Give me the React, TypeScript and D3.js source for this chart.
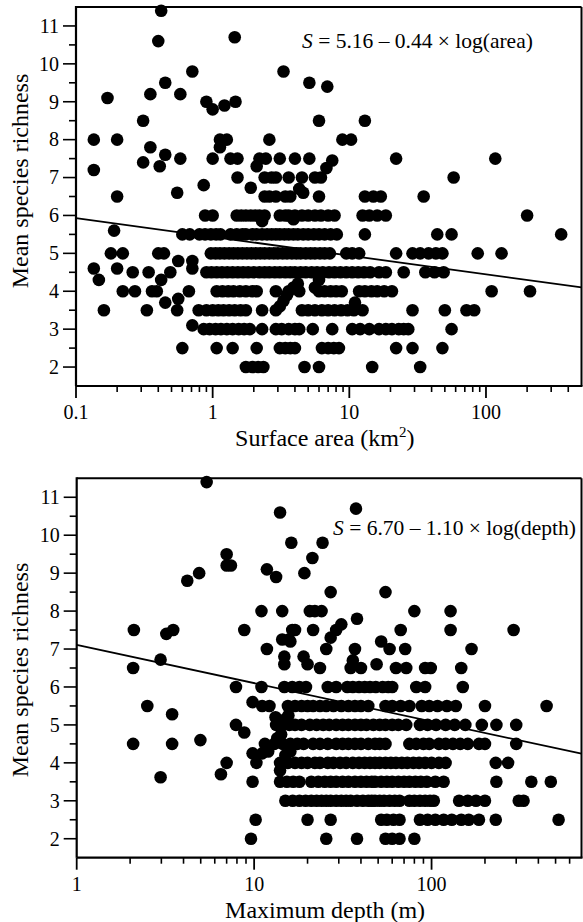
import React from "react";
import * as d3 from "d3";

// ---------- Panel 1: surface area ----------
const areaLevels = [2, 2.5, 3, 3.5, 4, 4.5, 5, 5.5, 6, 6.5, 7, 7.5, 8, 8.5];
const areaRows = [
  [1.75, 1.95, 2.15, 2.35, 4.7, 6.0, 14.7, 33],
  [0.6, 1.07, 1.4, 2.1, 3.1, 3.4, 3.7, 4.0, 6.3, 7.0, 7.7, 8.4, 22, 29, 48],
  [0.86, 0.95, 1.05, 1.15, 1.27, 1.4, 1.55, 1.7, 1.87, 2.3, 2.9, 3.2, 3.6, 4.0, 4.3, 5.4, 7.5, 10.5, 12, 14, 16.5, 18.5, 20.5, 23, 25, 27, 56],
  [0.16, 0.33, 0.55, 0.79, 0.9, 1.0, 1.1, 1.2, 1.32, 1.45, 1.6, 1.75, 2.3, 2.9, 4.5, 5.0, 5.6, 6.3, 7.0, 7.8, 8.7, 9.7, 10.8, 12.5, 29, 50, 72, 82],
  [0.22, 0.27, 0.36, 0.39, 0.67, 1.07, 1.18, 1.3, 1.42, 1.58, 1.75, 1.95, 2.1, 2.9, 3.6, 4.3, 6.0, 6.6, 7.3, 8.0, 8.8, 11.8, 13, 14.5, 16, 18, 20.5, 110, 210],
  [0.26, 0.34, 0.49, 0.9, 0.98, 1.07, 1.17, 1.28, 1.4, 1.53, 1.67, 1.82, 2.0, 2.2, 2.4, 2.6, 2.85, 3.1, 3.4, 3.7, 4.0, 4.4, 4.8, 5.3, 5.8, 6.4, 7.1, 7.8, 8.6, 9.5, 10.5, 11.6, 12.8, 14.2, 16.5, 18.5, 25, 36, 42, 49],
  [0.18, 0.22, 0.4, 0.44, 0.97, 1.05, 1.13, 1.22, 1.32, 1.42, 1.53, 1.65, 1.78, 1.92, 2.07, 2.23, 2.4, 2.6, 2.8, 3.0, 3.25, 3.5, 3.8, 4.1, 4.4, 4.8, 5.2, 5.6, 6.1, 6.6, 7.2, 9.5, 10.5, 11.8, 22, 29, 33, 38, 43, 48, 87, 130],
  [0.6, 0.68, 0.8, 0.88, 0.97, 1.06, 1.14, 1.35, 1.5, 1.65, 1.75, 1.95, 2.1, 2.3, 2.5, 2.7, 2.9, 3.1, 3.35, 3.6, 3.9, 4.2, 4.6, 5.0, 5.5, 6.0, 6.6, 7.3, 8.1, 13, 44, 56, 355],
  [0.88, 1.0, 1.5, 1.62, 1.75, 1.9, 2.05, 2.2, 2.4, 3.1, 3.4, 3.6, 4.0, 4.5, 5.0, 5.6, 6.2, 7.0, 7.8, 12.5, 14, 16, 18.5, 200],
  [2.4, 2.6, 2.9, 3.4, 3.7, 6.0, 13, 15, 17, 35],
  [1.52, 2.4, 2.7, 2.9, 3.6, 4.5, 5.6, 6.2, 58],
  [1.0, 1.35, 1.52, 2.2, 2.45, 3.1, 4.0, 5.1, 22, 117],
  [0.135, 0.2, 1.13, 1.27, 2.6, 8.9, 10.3],
  [0.31, 6.0, 13],
];
const areaExtras = [
  [0.42, 11.4], [0.4, 10.6], [1.45, 10.7], [3.3, 9.8], [0.71, 9.8], [0.45, 9.5], [5.1, 9.5], [6.9, 9.4],
  [0.17, 9.1], [0.35, 9.2], [0.58, 9.2], [0.9, 9.0], [1.0, 8.8], [1.22, 8.9], [1.47, 9.0],
  [0.35, 7.8], [1.13, 7.8], [0.45, 7.6], [0.31, 7.4], [0.41, 7.3], [0.58, 7.5], [2.1, 7.3], [6.8, 7.25],
  [7.5, 7.45], [0.135, 7.2], [0.2, 6.5], [0.55, 6.6], [0.86, 6.8], [1.9, 6.73], [4.3, 6.7], [4.6, 6.6],
  [3.9, 5.9], [2.3, 5.85], [0.19, 5.6], [0.56, 4.8], [0.71, 4.8], [0.71, 4.6], [0.2, 4.6], [0.135, 4.6],
  [0.147, 4.3], [0.42, 4.3], [0.45, 3.7], [0.56, 3.8], [0.71, 3.1], [3.1, 3.6], [3.3, 3.75], [3.5, 3.9],
  [3.9, 4.1], [4.2, 4.2], [11, 3.7], [5.6, 4.1], [6.0, 4.3],
];
const areaFit = [[0.1, 5.93], [500, 4.1]];
const areaMajorTicks = [0.1, 1, 10, 100];
const areaTickLabels = ["0.1", "1", "10", "100"];

// ---------- Panel 2: maximum depth ----------
const depthLevels = [2, 2.5, 3, 3.5, 4, 4.5, 5, 5.5, 6, 6.5, 7, 7.5, 8];
const depthRows = [
  [9.6, 25.5, 38, 55, 60, 66, 80],
  [10.2, 20, 27, 52, 56, 61, 66, 86, 95, 105, 117, 130, 147, 162, 185, 230, 520],
  [15, 16.5, 18, 19.5, 21, 22.5, 24, 25.5, 27, 29, 31, 33, 35, 38, 41, 44, 46, 48, 51, 54, 58, 62, 66, 75, 80, 86, 92, 98, 103, 143, 160, 178, 200, 310, 330],
  [9.8, 14, 15.3, 16.6, 18, 21, 23, 25, 27, 29, 31.5, 34, 37, 40, 43, 46, 48, 52, 56, 60, 65, 70, 75, 81, 87, 94, 105, 117, 232, 365, 470],
  [7, 10.3, 14, 15.5, 17, 18.5, 20, 22, 23.5, 26, 28, 30.5, 33, 36, 39, 42, 45, 48, 51, 55, 59, 63, 68, 73, 79, 85, 92, 100, 110, 120, 230, 270],
  [2.08, 3.45, 11.5, 13, 14.5, 16, 17.5, 19, 21.5, 23.5, 26, 29, 31.5, 34, 37, 40, 44, 48, 51, 55, 75, 82, 90, 97, 110, 120, 132, 145, 160, 185, 200, 300],
  [7.9, 13.3, 14.5, 15.8, 17, 18.5, 20.6, 22.5, 24.5, 26.5, 29, 31.5, 34, 37, 40, 43, 47, 51, 55, 60, 65, 72, 86, 95, 106, 120, 135, 155, 192, 232, 300],
  [2.5, 11.1, 12.2, 15.5, 17, 18.5, 20, 21.5, 23.5, 25.5, 28, 31, 34, 37, 40, 44, 55, 60, 67, 75, 88, 97, 108, 122, 137, 200, 445],
  [7.9, 11, 14.8, 16.4, 18, 19.6, 26, 29, 33.5, 36, 39, 42, 45, 48.5, 53, 57, 60, 82, 92, 150],
  [2.08, 23.5, 35, 40, 63, 72, 92, 99, 147],
  [11.8, 25.5, 37, 58, 71, 168],
  [2.1, 3.5, 8.8, 16.4, 17, 21.5, 29, 67, 128, 290],
  [11, 14.4, 20.6, 22, 24, 80, 128],
];
const depthExtras = [
  [5.4, 11.4], [14, 10.6], [37.5, 10.7], [16.2, 9.8], [24.3, 9.8], [7, 9.5], [21.3, 9.4], [7, 9.2],
  [7.4, 9.2], [11.8, 9.1], [4.9, 9.0], [19.2, 9.0], [13.3, 8.9], [4.2, 8.8], [27, 8.5], [55, 8.5],
  [38, 7.8], [31, 7.65], [3.2, 7.4], [14.4, 7.25], [15.7, 7.25], [16, 7.2], [27, 7.3], [52, 7.2],
  [14.8, 6.8], [14.8, 6.6], [19, 6.8], [20, 6.6], [36, 6.7], [49, 6.6], [2.97, 6.72],
  [9.8, 5.6], [3.45, 5.28], [8.8, 4.8], [4.98, 4.6], [2.97, 3.62], [6.5, 3.7], [9.8, 4.25],
  [11.1, 4.25], [12, 4.3], [14, 3.8], [13.5, 4.65], [14.2, 4.75], [15, 5.15], [15.6, 5.25],
  [16, 4.3], [15, 4.2], [14.3, 5.1], [13.2, 5.2],
];
const depthFit = [[1, 7.11], [700, 4.24]];
const depthMajorTicks = [1, 10, 100];
const depthTickLabels = ["1", "10", "100"];

const yMajorTicks = [2, 3, 4, 5, 6, 7, 8, 9, 10, 11];
const yMinorTicks = [2.5, 3.5, 4.5, 5.5, 6.5, 7.5, 8.5, 9.5, 10.5];

const FONT = "'Liberation Serif', 'Times New Roman', Times, serif";

function Panel(props: any) {
  const { box, xDomain, levels, rows, extras, fit, majors, majorLabels, xLabel, eq, eqPos, yLabelY } = props;
  const x = d3.scaleLog().domain(xDomain).range([box.left, box.right]);
  const y = d3.scaleLinear().domain([1.5, 11.5]).range([box.bottom, box.top]);
  const pts: [number, number][] = [];
  rows.forEach((r: number[], i: number) => r.forEach((v) => pts.push([v, levels[i]])));
  extras.forEach((p: number[]) => pts.push([p[0], p[1]]));
  const minors = x.ticks().filter((t) => !majors.some((m: number) => Math.abs(m - t) < 1e-9) && t < xDomain[1] && t > xDomain[0]);
  const line = d3.line<number[]>().x((d) => x(d[0])).y((d) => y(d[1]));
  return (
    <g fontFamily={FONT} fill="#000">
      {/* frame */}
      <line x1={box.left} x2={box.right} y1={box.top} y2={box.top} stroke="#000" strokeWidth={2} />
      <line x1={box.right} x2={box.right} y1={box.top} y2={box.bottom} stroke="#000" strokeWidth={2} />
      <line x1={box.left} x2={box.right + 1} y1={box.bottom} y2={box.bottom} stroke="#000" strokeWidth={2.2} />
      <line x1={box.left} x2={box.left} y1={box.top - 1} y2={box.bottom} stroke="#000" strokeWidth={2.2} />
      {/* y ticks */}
      {yMajorTicks.map((t) => (
        <g key={"ym" + t}>
          <line x1={box.left - 13} x2={box.left} y1={y(t)} y2={y(t)} stroke="#000" strokeWidth={1.6} />
          <text x={box.left - 17} y={y(t)} dy="0.34em" textAnchor="end" fontSize={20}>{t}</text>
        </g>
      ))}
      {yMinorTicks.map((t) => (
        <line key={"yn" + t} x1={box.left - 7} x2={box.left} y1={y(t)} y2={y(t)} stroke="#000" strokeWidth={1.6} />
      ))}
      {/* x ticks */}
      {majors.map((t: number, i: number) => (
        <g key={"xm" + t}>
          <line x1={x(t)} x2={x(t)} y1={box.bottom} y2={box.bottom + 12} stroke="#000" strokeWidth={1.8} />
          <text x={x(t)} y={box.bottom + 33} textAnchor="middle" fontSize={20}>{majorLabels[i]}</text>
        </g>
      ))}
      {minors.map((t: number) => (
        <line key={"xn" + t} x1={x(t)} x2={x(t)} y1={box.bottom} y2={box.bottom + 6} stroke="#000" strokeWidth={1.6} />
      ))}
      {/* fit line */}
      <path d={line(fit) || ""} fill="none" stroke="#000" strokeWidth={1.8} />
      {/* points */}
      {pts.map((p, i) => (
        <circle key={i} cx={x(p[0])} cy={y(p[1])} r={6.3} fill="#000" />
      ))}
      {/* equation */}
      <text x={eqPos[0]} y={eqPos[1]} fontSize={21.5}>
        <tspan fontStyle="italic">S</tspan>
        {eq}
      </text>
      {/* labels */}
      <text x={(box.left + box.right) / 2 - 4} y={box.bottom + 60} textAnchor="middle" fontSize={24}>{xLabel}</text>
      <text transform={`translate(28,${yLabelY}) rotate(-90)`} textAnchor="middle" fontSize={24}>Mean species richness</text>
    </g>
  );
}

export default function App() {
  return (
    <svg width={583} height={922} style={{ position: "absolute", left: 0, top: 0, background: "#fff" }}>
      <rect width={583} height={922} fill="#fff" />
      <Panel
        box={{ left: 76, right: 581.5, top: 7, bottom: 386 }}
        xDomain={[0.1, 500]}
        levels={areaLevels}
        rows={areaRows}
        extras={areaExtras}
        fit={areaFit}
        majors={areaMajorTicks}
        majorLabels={areaTickLabels}
        xLabel={<>Surface area (km<tspan fontSize={15} dy={-9}>2</tspan><tspan dy={9}>)</tspan></>}
        eq={" = 5.16 \u2013 0.44 \u00d7  log(area)"}
        eqPos={[302, 48]}
        yLabelY={181}
      />
      <Panel
        box={{ left: 76.7, right: 581.5, top: 478.3, bottom: 857.7 }}
        xDomain={[1, 700]}
        levels={depthLevels}
        rows={depthRows}
        extras={depthExtras}
        fit={depthFit}
        majors={depthMajorTicks}
        majorLabels={depthTickLabels}
        xLabel={"Maximum depth (m)"}
        eq={" = 6.70 \u2013 1.10 \u00d7 log(depth)"}
        eqPos={[333, 535]}
        yLabelY={670}
      />
    </svg>
  );
}
